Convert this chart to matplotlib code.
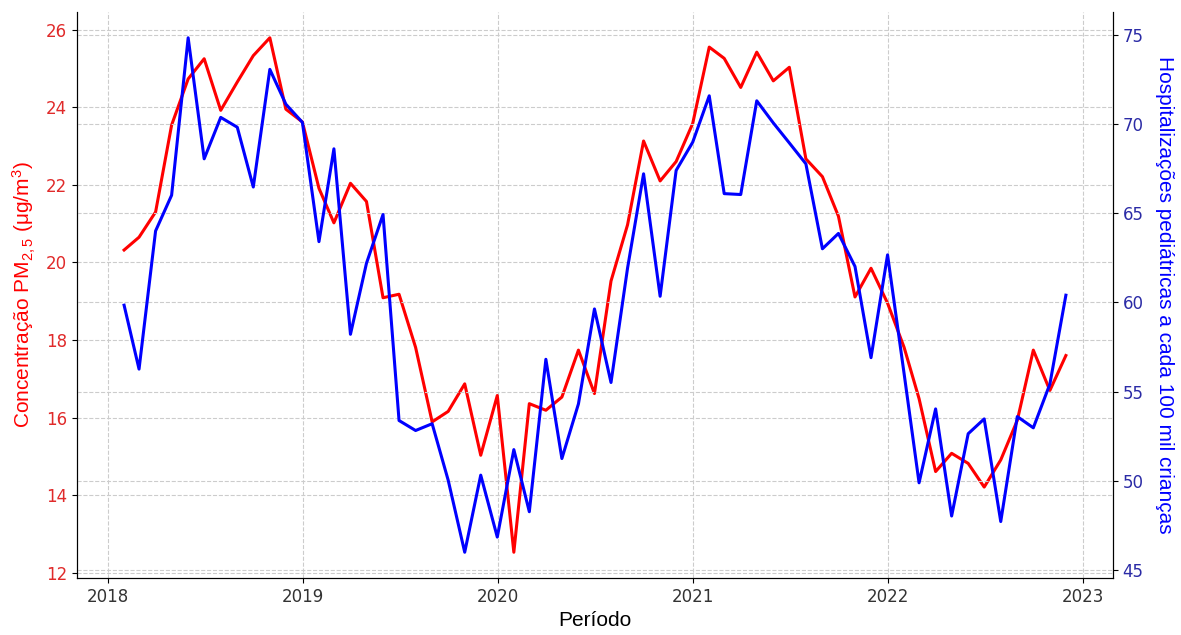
import matplotlib

matplotlib.use("Agg")
import matplotlib.dates as mdates
import matplotlib.pyplot as plt
import pandas as pd

# monthly series, end of month, Jan 2018 .. Nov 2022
periodo = pd.date_range("2018-01-31", periods=59, freq="ME")

pm25 = [
    20.32, 20.65, 21.30, 23.54, 24.73, 25.25, 23.92, 24.65, 25.33, 25.79, 23.95, 23.62,
    21.91, 21.02, 22.04, 21.57, 19.09, 19.18, 17.81, 15.89, 16.16, 16.87, 15.03, 16.57,
    12.53, 16.36, 16.19, 16.53, 17.74, 16.62, 19.52, 20.97, 23.13, 22.10, 22.60, 23.58,
    25.55, 25.26, 24.51, 25.42, 24.68, 25.03, 22.67, 22.21, 21.19, 19.11, 19.85, 18.95,
    17.81, 16.49, 14.61, 15.08, 14.82, 14.21, 14.91, 15.93, 17.74, 16.70, 17.60,
]

hospitalizacoes = [
    59.84, 56.26, 64.00, 66.00, 74.82, 68.04, 70.36, 69.81, 66.46, 73.05, 71.10, 70.08,
    63.40, 68.60, 58.21, 62.19, 64.92, 53.38, 52.82, 53.20, 50.04, 46.00, 50.32, 46.85,
    51.75, 48.27, 56.81, 51.25, 54.31, 59.63, 55.51, 61.92, 67.20, 60.34, 67.39, 68.97,
    71.57, 66.09, 66.04, 71.29, 70.05, 68.93, 67.76, 63.00, 63.86, 62.01, 56.90, 62.66,
    56.00, 49.89, 54.03, 48.03, 52.64, 53.47, 47.72, 53.60, 52.97, 55.42, 60.40,
]

plt.rcParams["mathtext.fontset"] = "custom"
plt.rcParams["mathtext.rm"] = "Liberation Sans"
plt.rcParams["mathtext.it"] = "Liberation Sans:italic"
plt.rcParams["mathtext.default"] = "regular"

fig, ax = plt.subplots(figsize=(11.81, 6.35), dpi=100)
fig.subplots_adjust(left=0.0652, right=0.9424, top=0.981, bottom=0.0898)

ax.plot(periodo, pm25, color="red", linewidth=2.2)
ax.set_xlabel("Período", fontsize=15, family="Liberation Sans", labelpad=4)
ax.set_ylabel("Concentração PM$_{2,5}$ (μg/m$^3$)", color="red", fontsize=15,
              family="Liberation Sans", labelpad=6)
ax.tick_params(axis="y", labelcolor="#e02a2a", labelsize=12)
ax.tick_params(axis="x", labelsize=12, labelcolor="#333333")
ax.grid(True, linestyle="--", color="#cccccc", linewidth=0.8)

ax2 = ax.twinx()
ax2.plot(periodo, hospitalizacoes, color="blue", linewidth=2.2)
ax2.set_ylabel("Hospitalizações pediátricas a cada 100 mil crianças", color="blue",
               fontsize=15, family="Liberation Sans", rotation=270, labelpad=22)
ax2.tick_params(axis="y", labelcolor="#2b2ba6", labelsize=12)
ax2.grid(True, linestyle="--", color="#cccccc", linewidth=0.8)

ax.xaxis.set_major_locator(mdates.YearLocator())
ax.xaxis.set_major_formatter(mdates.DateFormatter("%Y"))

for a in (ax, ax2):
    a.spines["top"].set_visible(False)

plt.savefig("out.png", dpi=100)
plt.close()
